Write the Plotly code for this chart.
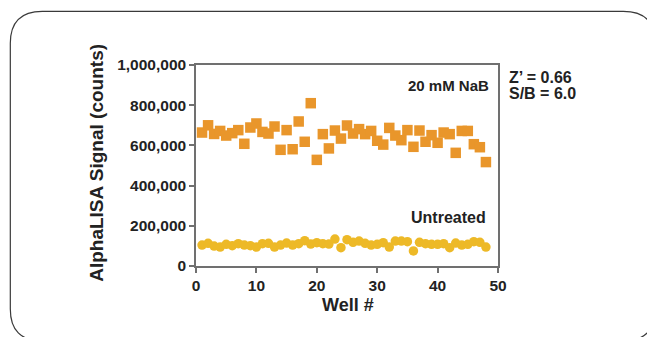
import plotly.graph_objects as go

# ---- data ----
wells = list(range(1, 49))
nab_20mM = [664000, 700000, 657000, 672000, 649000, 661000, 676000, 608000, 689000, 709000,
            667000, 659000, 694000, 578000, 676000, 581000, 719000, 618000, 810000, 528000,
            656000, 585000, 674000, 634000, 699000, 659000, 681000, 656000, 672000, 623000,
            604000, 687000, 649000, 626000, 676000, 593000, 674000, 618000, 651000, 613000,
            664000, 656000, 563000, 672000, 672000, 606000, 591000, 517000]
untreated = [104000, 113000, 99000, 94000, 108000, 101000, 111000, 104000, 101000, 94000,
             111000, 113000, 94000, 104000, 114000, 104000, 111000, 126000, 109000, 116000,
             111000, 109000, 134000, 91000, 131000, 118000, 124000, 113000, 104000, 108000,
             116000, 94000, 124000, 124000, 121000, 75000, 118000, 111000, 108000, 108000,
             111000, 91000, 114000, 104000, 108000, 121000, 118000, 94000]
x_ticks = [0, 10, 20, 30, 40, 50]
y_ticks = [0, 200000, 400000, 600000, 800000, 1000000]
y_tick_text = ["0", "200,000", "400,000", "600,000", "800,000", "1,000,000"]

# ---- layout geometry (pixels) ----
W, H = 647, 337
L, R, T, B = 196, 498.5, 64.7, 266
FONT = "Liberation Sans, Arial, sans-serif"

def px(x):
    return (x - L) / (R - L)

def py(y):
    return (B - y) / (B - T)

fig = go.Figure()
fig.add_trace(go.Scatter(
    x=wells, y=nab_20mM, mode="markers", name="20 mM NaB",
    marker=dict(symbol="square", size=10.5, color="#E9962B", line=dict(width=0)),
    cliponaxis=False,
))
fig.add_trace(go.Scatter(
    x=wells, y=untreated, mode="markers", name="Untreated",
    marker=dict(symbol="circle", size=9.5, color="#EDB927", line=dict(width=0)),
    cliponaxis=False,
))

axis_common = dict(
    showline=True, linecolor="#707070", linewidth=1.5, mirror=True,
    ticks="outside", ticklen=5, tickwidth=1.5, tickcolor="#707070",
    showgrid=False, zeroline=False,
    tickfont=dict(family=FONT, size=15.5, color="#222222", weight="bold"),
)
fig.update_xaxes(range=[0, 50], tickvals=x_ticks, **axis_common)
fig.update_yaxes(range=[0, 1000000], tickvals=y_ticks, ticktext=y_tick_text, **axis_common)

# rounded outer border
x0, y0, x1, y1, r = 10, 11, 656, 341, 32
path = (f"M {px(x0 + r)},{py(y0)} L {px(x1 - r)},{py(y0)} "
        f"Q {px(x1)},{py(y0)} {px(x1)},{py(y0 + r)} "
        f"L {px(x1)},{py(y1 - r)} Q {px(x1)},{py(y1)} {px(x1 - r)},{py(y1)} "
        f"L {px(x0 + r)},{py(y1)} Q {px(x0)},{py(y1)} {px(x0)},{py(y1 - r)} "
        f"L {px(x0)},{py(y0 + r)} Q {px(x0)},{py(y0)} {px(x0 + r)},{py(y0)} Z")
fig.add_shape(type="path", path=path, xref="paper", yref="paper",
              line=dict(color="#3a3a3a", width=1.2), layer="below")

def note(text, x, y, size=16, xanchor="center", textangle=0):
    fig.add_annotation(text=text, x=px(x), y=py(y), xref="paper", yref="paper",
                       showarrow=False, xanchor=xanchor, yanchor="middle",
                       textangle=textangle,
                       font=dict(family=FONT, size=size, color="#222222", weight="bold"))

note("AlphaLISA Signal (counts)", 96, 162.5, size=19, textangle=-90)
note("Well #", 348, 305, size=18)
note("20 mM NaB", 449, 85, size=15)
note("Untreated", 449, 217)
note("Z’ = 0.66", 508, 77.5, xanchor="left")
note("S/B = 6.0", 508, 93.5, xanchor="left")

fig.update_layout(
    width=W, height=H,
    margin=dict(l=L, r=W - R, t=T, b=H - B),
    paper_bgcolor="white", plot_bgcolor="white",
    showlegend=False,
)
fig.write_html("out.html")
